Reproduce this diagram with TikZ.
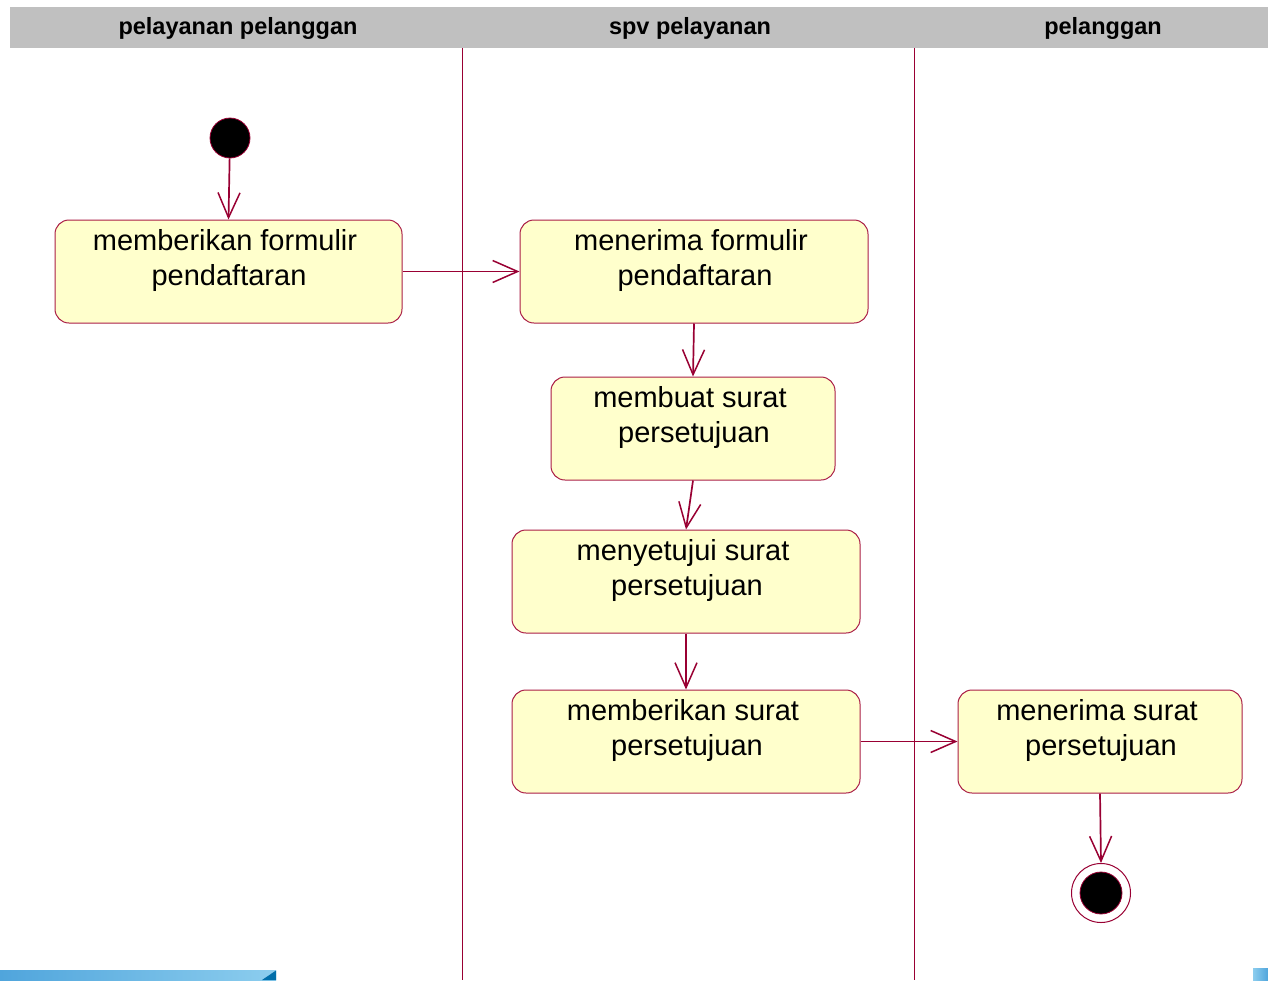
\documentclass[tikz,border=0pt]{standalone}
\usepackage{fontspec}
\setmainfont{Liberation Sans}
\usetikzlibrary{arrows.meta}
\definecolor{uml}{RGB}{153,0,51}
\definecolor{umlborder}{RGB}{170,30,70}
\definecolor{umlbox}{RGB}{255,255,204}
\definecolor{lanehead}{RGB}{192,192,192}
\definecolor{barA}{RGB}{80,165,220}
\definecolor{barB}{RGB}{140,205,238}
\definecolor{barC}{RGB}{0,110,170}
\begin{document}
\begin{tikzpicture}[x=1pt,y=-1pt,
  act/.style={draw=umlborder, line width=1pt, fill=umlbox, rounded corners=14pt,
              minimum width=#1, minimum height=103pt, inner sep=0pt},
  acttext/.style={font=\fontsize{29}{35}\selectfont, align=center, inner sep=0pt, anchor=north},
  headtext/.style={font=\fontsize{23.5}{28}\selectfont\bfseries, inner sep=0pt},
  flow/.style={draw=uml, line width=1.7pt,
               -{Straight Barb[length=25pt,width=22pt,line width=1.5pt]}},
  lane/.style={draw=uml, line width=1pt},
  startdot/.style={circle, fill=black, draw=uml, line width=0.8pt, minimum size=40pt, inner sep=0pt},
]
\useasboundingbox (0,0) rectangle (1268,980);
\fill[white] (0,0) rectangle (1268,980);

% header band
\fill[lanehead] (10,7) rectangle (1268,48);
\node[headtext] (h1) at (238,28) {pelayanan pelanggan};
\node[headtext] (h2) at (690,28) {spv pelayanan};
\node[headtext] (h3) at (1103,28) {pelanggan};

% lane separators
\draw[lane] (462,48) -- (462,980);
\draw[lane] (914,48) -- (914,980);

% start
\node[startdot] (s) at (230,138) {};

% activities
\node[act=347pt] (a1) at (228.5,271.5) {};
\node[acttext] (t1) at (229,229) {memberikan formulir\hspace*{8pt}\\pendaftaran};

\node[act=348pt] (a2) at (694,271.5) {};
\node[acttext] (t2) at (695,229) {menerima formulir\hspace*{8pt}\\pendaftaran};

\node[act=284pt] (a3) at (693,428.5) {};
\node[acttext] (t3) at (694,386) {membuat surat\hspace*{8pt}\\persetujuan};

\node[act=348pt] (a4) at (686,581.5) {};
\node[acttext] (t4) at (687,539) {menyetujui surat\hspace*{8pt}\\persetujuan};

\node[act=348pt] (a5) at (686,741.5) {};
\node[acttext] (t5) at (687,699) {memberikan surat\hspace*{8pt}\\persetujuan};

\node[act=284pt] (a6) at (1100,741.5) {};
\node[acttext] (t6) at (1101,699) {menerima surat\hspace*{8pt}\\persetujuan};

% end
\node[circle, draw=uml, line width=1pt, fill=white, minimum size=59pt, inner sep=0pt] (e) at (1101,893) {};
\node[circle, fill=black, draw=uml, line width=0.8pt, minimum size=42pt, inner sep=0pt] (ein) at (1101,893) {};

% flows
\draw[flow] (s) -- (a1.north);
\draw[flow] (a1.east) -- (a2.west);
\draw[flow] (a2.south) -- (a3.north);
\draw[flow] (a3.south) -- (a4.north);
\draw[flow] (a4.south) -- (a5.north);
\draw[flow] (a5.east) -- (a6.west);
\draw[flow] (a6.south) -- (e.north);

% bottom artifacts
\shade[left color=barA, right color=barB] (0,970.5) rectangle (276,980);
\fill[barC] (262,980) -- (276,970.5) -- (276,980) -- cycle;
\shade[left color=barB, right color=barA] (1253,968) rectangle (1268,980);
\end{tikzpicture}
\end{document}
